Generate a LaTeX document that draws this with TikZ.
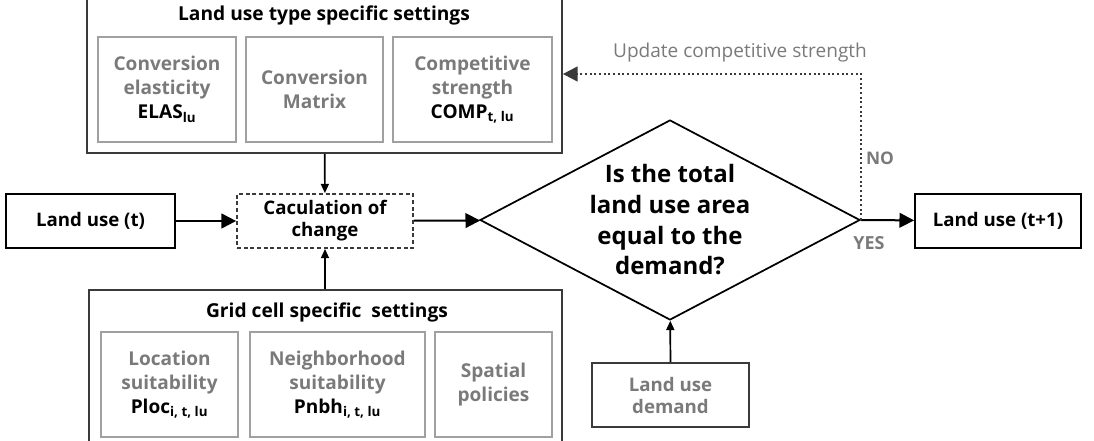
\documentclass[tikz,border=0pt]{standalone}
\usepackage{fontspec}
\setmainfont{Open Sans}
\usepackage{tikz}
\usetikzlibrary{arrows.meta,shapes.geometric}
\definecolor{softgray}{HTML}{7A7A7A}
\definecolor{linegray}{HTML}{A0A0A0}
\definecolor{framegray}{HTML}{3A3A3A}
\def\groupnode{\node[draw=framegray,line width=1.3pt,inner sep=0pt]}
\def\itemnode{\node[draw=linegray,line width=1.5pt,text=softgray,align=center,inner sep=0pt,minimum height=78.75pt,font=\fontsize{14.3}{18}\selectfont\bfseries]}
\def\flownode{\node[draw=black,line width=1.3pt,align=center,inner sep=0pt,minimum height=40.5pt,font=\fontsize{14}{16.5}\selectfont\bfseries]}
\def\drawflow{\draw[line width=1.5pt,-{Triangle[length=11pt,width=11pt]}]}
\def\drawfeed{\draw[line width=1.3pt,-{Triangle[length=7pt,width=6pt]}]}
\newcommand{\param}[2]{{\color{black}#1\textsubscript{#2}}}

\begin{document}
\begin{tikzpicture}[x=0.75pt,y=-0.75pt]
\useasboundingbox (0,0) rectangle (1094,441);
% land use type settings
\groupnode[minimum width=356.25pt,minimum height=118.5pt] (lutype) at (324.5,74) {};
\node[font=\fontsize{14.4}{16}\selectfont\bfseries] (lutitle) at (324,15) {Land use type specific settings};
\itemnode[minimum width=103.5pt] (elas) at (167,89.5) {Conversion\\elasticity\\\param{ELAS}{lu}};
\itemnode[minimum width=102.75pt] (convmat) at (314.5,89.5) {Conversion\\Matrix};
\itemnode[minimum width=119.25pt] (comp) at (472.5,89.5) {Competitive\\strength\\\param{COMP}{t, lu}};
% grid cell settings
\groupnode[minimum width=354.75pt,minimum height=117pt] (grid) at (325.5,368) {};
\node[font=\fontsize{14.4}{16}\selectfont\bfseries] (gridtitle) at (327,312) {Grid cell specific\ \ settings};
\itemnode[minimum width=102.75pt] (loc) at (169.5,384.5) {Location\\suitability\\\param{Ploc}{i, t, lu}};
\itemnode[minimum width=131.25pt] (nbh) at (337.5,384.5) {Neighborhood\\suitability\\\param{Pnbh}{i, t, lu}};
\itemnode[minimum width=87.75pt] (spat) at (493.5,384.5) {Spatial\\policies};
% main flow
\flownode[minimum width=126.75pt] (lut) at (90.5,221) {Land use (t)};
\flownode[minimum width=132pt,draw=framegray,dash pattern=on 3pt off 2pt] (calc) at (325,221) {Caculation of\\change};
\node[diamond,draw,line width=1.3pt,shape aspect=1.9,minimum width=285pt,minimum height=150pt,inner sep=0pt,align=center,font=\fontsize{18}{23}\selectfont\bfseries] (check) at (670,220) {Is the total\\land use area\\equal to the\\demand?};
\flownode[minimum width=124.5pt] (lutnext) at (998,221) {Land use (t+1)};
\flownode[minimum width=117.75pt,minimum height=48pt,draw=framegray,text=softgray] (demand) at (670.5,395) {Land use\\demand};
\drawflow (lut) -- (calc);
\drawflow (calc) -- (check);
\drawflow (check.east) -- (lutnext);
\drawfeed (lutype) -- (calc);
\drawfeed (calc.south |- grid.north) -- (calc);
\drawfeed (demand) -- (check);
% feedback loop
\draw[dotted,line width=1.5pt,color=framegray,-{Triangle[length=11pt,width=11pt]}] (check.east) |- (lutype.east);
\node[text=softgray,font=\fontsize{14.3}{16}\selectfont] (update) at (740,53) {Update competitive strength};
\node[text=softgray,font=\fontsize{13}{15}\selectfont\bfseries] (no) at (880,158) {NO};
\node[text=softgray,font=\fontsize{13.5}{15}\selectfont\bfseries] (yes) at (869,243) {YES};
\end{tikzpicture}
\end{document}
